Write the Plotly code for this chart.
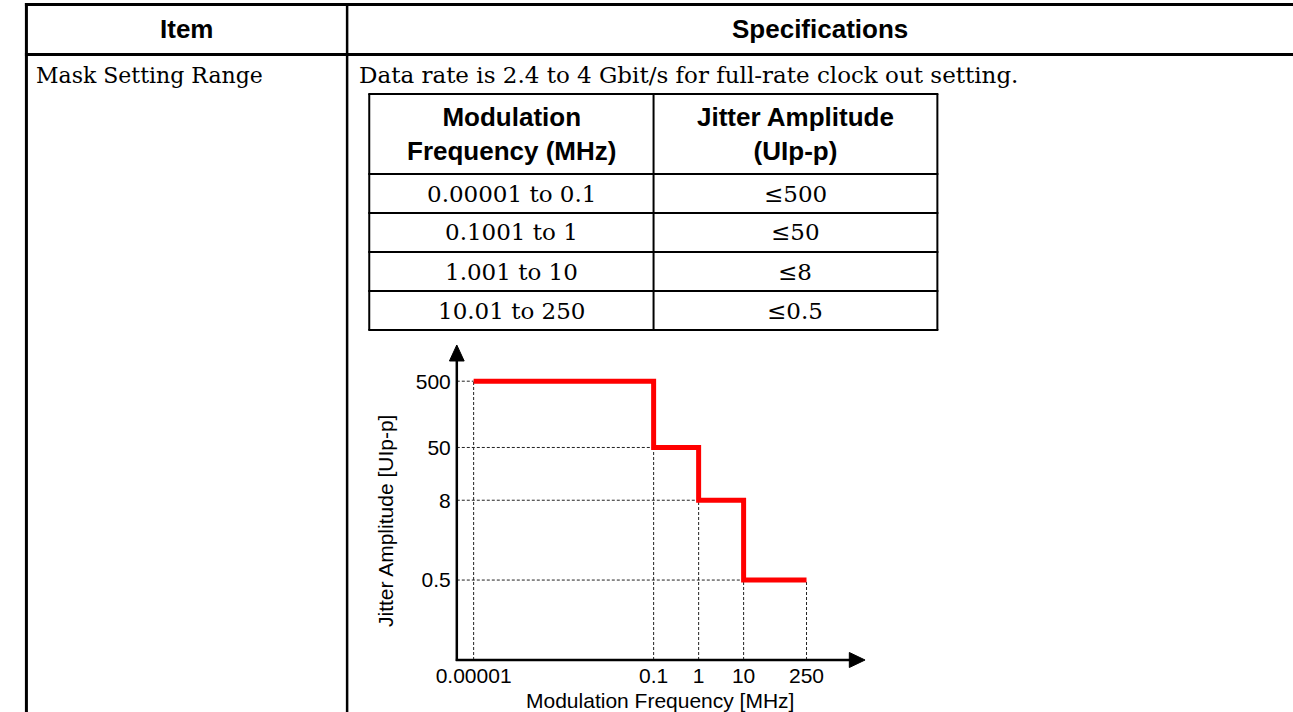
import plotly.graph_objects as go

W, H = 1293, 712

# ---------------- data ----------------
header_cols = ["Item", "Specifications"]
item_label = "Mask Setting Range"
spec_note = "Data rate is 2.4 to 4 Gbit/s for full-rate clock out setting."
inner_headers = ["Modulation<br>Frequency (MHz)", "Jitter Amplitude<br>(UIp-p)"]
freq_ranges = ["0.00001 to 0.1", "0.1001 to 1", "1.001 to 10", "10.01 to 250"]
amp_limits = ["≤500", "≤50", "≤8", "≤0.5"]

freq_breaks = [0.00001, 0.1, 1, 10, 250]
freq_tick_labels = ["0.00001", "0.1", "1", "10", "250"]
amp_levels = [500, 50, 8, 0.5]
amp_tick_labels = ["500", "50", "8", "0.5"]
x_title = "Modulation Frequency [MHz]"
y_title = "Jitter Amplitude [UIp-p]"

# ---------------- layout helpers ----------------
def X(px):
    return px / W

def Y(py):
    return 1 - py / H

SANS = "Liberation Sans, Arial, sans-serif"
SERIF = "DejaVu Serif, serif"

XR = [-5.374, 3.699]   # log10 range of frequency axis
YR = [-1.507, 3.245]   # log10 range of amplitude axis
x_left = 10 ** XR[0]
y_bot = 10 ** YR[0]

fig = go.Figure()

# dotted guide lines
gx, gy = [], []
for i, f in enumerate(freq_breaks):
    top = amp_levels[min(i, len(amp_levels) - 1)]
    gx += [f, f, None]
    gy += [y_bot, top, None]
for j, a in enumerate(amp_levels):
    gx += [x_left, freq_breaks[j], None]
    gy += [a, a, None]
fig.add_trace(go.Scatter(x=gx, y=gy, mode="lines",
                         line=dict(color="#222222", width=1, dash="3px,2px"),
                         hoverinfo="skip"))

# mask step line
fig.add_trace(go.Scatter(x=freq_breaks, y=amp_levels + [amp_levels[-1]],
                         mode="lines", line=dict(color="#FF0000", width=5, shape="hv")))

ax_x0, ax_x1 = 443, 858
ax_y0, ax_y1 = 660, 345

fig.update_layout(
    width=W, height=H,
    margin=dict(l=0, r=0, t=0, b=0),
    paper_bgcolor="white", plot_bgcolor="white",
    showlegend=False,
    xaxis=dict(type="log", range=XR, domain=[X(ax_x0), X(ax_x1)],
               showgrid=False, zeroline=False, showline=False,
               tickvals=freq_breaks, ticktext=freq_tick_labels, ticks="",
               tickfont=dict(family=SANS, size=21, color="black"),
               ticklabelstandoff=1, fixedrange=True),
    yaxis=dict(type="log", range=YR, domain=[Y(ax_y0), Y(ax_y1)],
               showgrid=False, zeroline=False, showline=False,
               tickvals=amp_levels, ticktext=amp_tick_labels, ticks="",
               tickfont=dict(family=SANS, size=21, color="black"),
               ticklabelstandoff=5, fixedrange=True),
)

shapes = []
def hline(y, x0, x1, w):
    shapes.append(dict(type="line", xref="paper", yref="paper",
                       x0=X(x0), x1=X(x1), y0=Y(y), y1=Y(y),
                       line=dict(color="black", width=w)))
def vline(x, y0, y1, w):
    shapes.append(dict(type="line", xref="paper", yref="paper",
                       x0=X(x), x1=X(x), y0=Y(y0), y1=Y(y1),
                       line=dict(color="black", width=w)))

# outer table
hline(4.5, 4, W, 3)
hline(54.5, 4, W, 3)
vline(5.5, 3, H, 3)
vline(331.5, 3, H, 2.5)

# inner table
tl, tm, tr = 354, 643, 931.5
rows_y = [94, 174, 213, 252, 291, 330]
for ry in rows_y:
    hline(ry, tl - 1, tr + 1, 2)
for vx in (tl, tm, tr):
    vline(vx, rows_y[0], rows_y[-1], 2)

# chart axes with arrowheads
vline(ax_x0, ax_y0 + 1, ax_y1 + 12, 2.5)
hline(ax_y0, ax_x0 - 1, ax_x1 - 12, 2.5)
def path(pts):
    d = "M " + " L ".join(f"{X(a):.5f},{Y(b):.5f}" for a, b in pts) + " Z"
    shapes.append(dict(type="path", xref="paper", yref="paper", path=d,
                       fillcolor="black", line=dict(color="black", width=1)))
path([(ax_x0, ax_y1), (ax_x0 - 7.5, ax_y1 + 16), (ax_x0 + 7.5, ax_y1 + 16)])
path([(ax_x1, ax_y0), (ax_x1 - 16, ax_y0 - 7.5), (ax_x1 - 16, ax_y0 + 7.5)])

fig.update_layout(shapes=shapes)

ann = []
def text(t, x, y, size, family, xanchor="center", bold=False, angle=0):
    ann.append(dict(text=t, xref="paper", yref="paper", x=X(x), y=Y(y),
                    xanchor=xanchor, yanchor="middle", showarrow=False,
                    textangle=angle,
                    font=dict(family=family, size=size, color="black",
                              weight="bold" if bold else "normal")))

text(header_cols[0], 168, 29, 26, SANS, bold=True)
text(header_cols[1], 812, 29, 26, SANS, bold=True)
text(item_label, 13, 75, 22, SERIF, xanchor="left")
text(spec_note, 342, 75, 23, SERIF, xanchor="left")
text(inner_headers[0], (tl + tm) / 2, 134, 26, SANS, bold=True)
text(inner_headers[1], (tm + tr) / 2, 134, 26, SANS, bold=True)
for k in range(len(freq_ranges)):
    cy = (rows_y[k + 1] + rows_y[k + 2]) / 2
    text(freq_ranges[k], (tl + tm) / 2, cy, 23, SERIF)
    text(amp_limits[k], (tm + tr) / 2, cy, 23, SERIF)

text(x_title, 650, 700, 21, SANS)
text(y_title, 370, 521, 21, SANS, angle=-90)

fig.update_layout(annotations=ann)

fig.write_html("out.html", config={"displayModeBar": False},
               post_script="document.body.style.margin='0';")
